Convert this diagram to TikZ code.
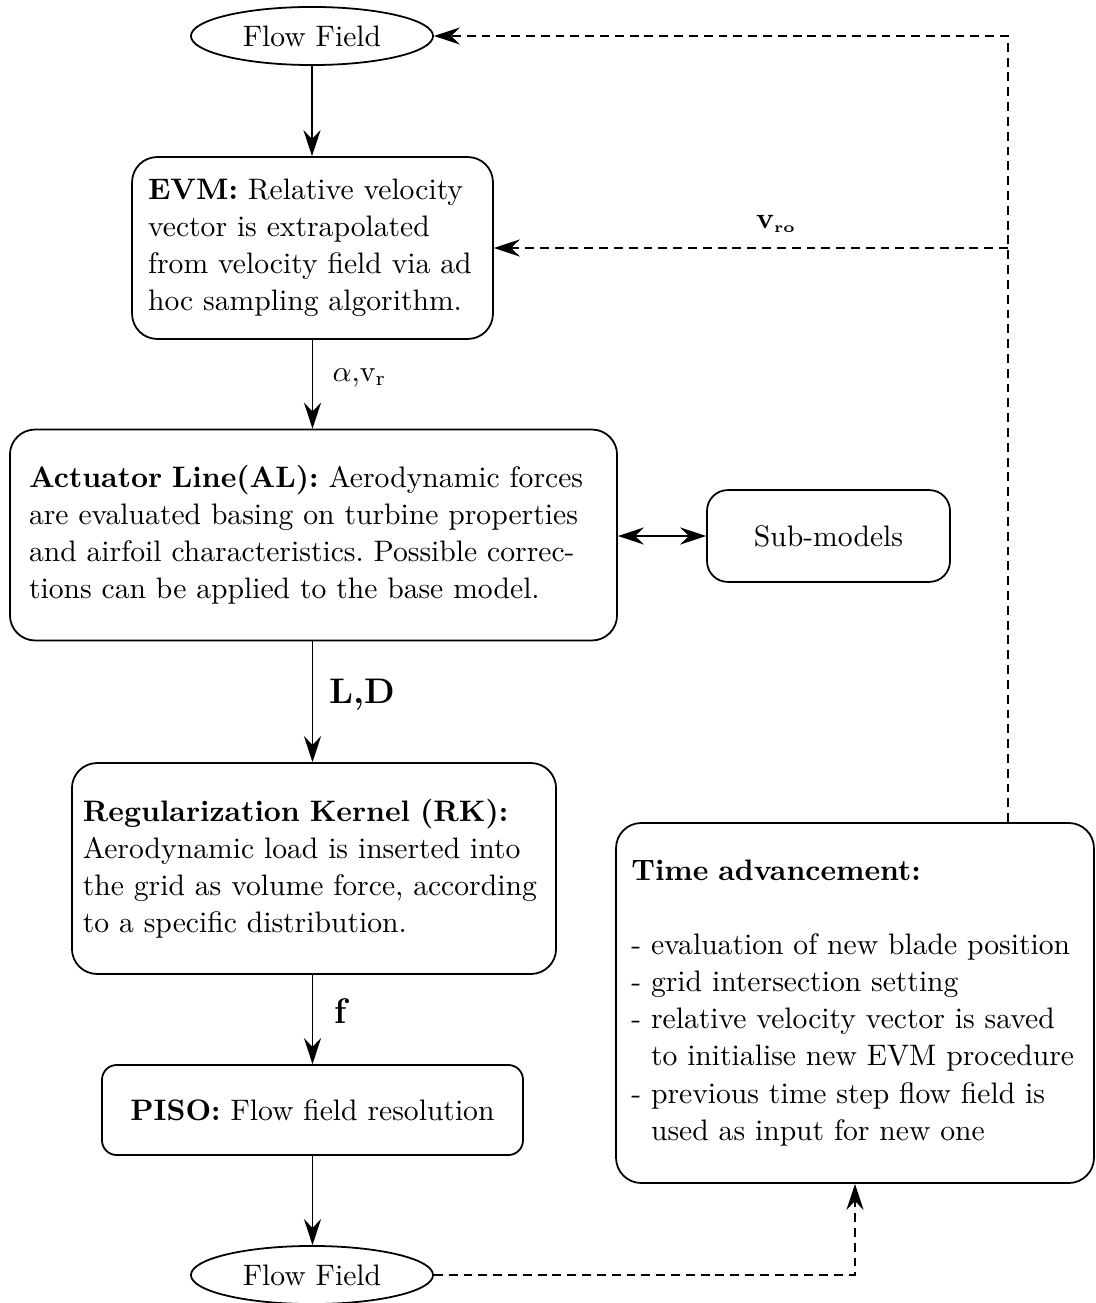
\documentclass[tikz,border=0pt]{standalone}
\usetikzlibrary{shapes.geometric,arrows.meta}
\begin{document}
\frenchspacing
\begin{tikzpicture}[x=0.3375pt,y=-0.3375pt,
  every node/.style={font=\fontsize{10}{12.5}\selectfont},
  box/.style={draw, line width=0.6pt, rounded corners=8.5pt, inner sep=0pt, align=left},
  ffnode/.style={draw, ellipse, line width=0.6pt, minimum width=81.7pt, minimum height=19.6pt, inner sep=0pt},
  tip/.tip={Stealth[length=8.8pt,width=5.8pt,inset=3pt]},
  arr/.style={line width=0.6pt, -tip},
  darr/.style={line width=0.6pt, -tip, dash pattern=on 3pt off 2pt},
  lbl/.style={anchor=west, inner sep=0pt}]
\useasboundingbox (0,0) rectangle (1095,1303);

\node[ffnode] (ff1) at (312,36) {Flow Field};
\node[box, minimum width=121.8pt, minimum height=61.4pt, text width=111pt] (evm) at (312.5,248)
  {\textbf{EVM:} Relative velocity\\vector is extrapolated\\from velocity field via ad\\hoc sampling algorithm.};
\node[box, minimum width=204.9pt, minimum height=71.2pt, text width=192pt] (al) at (313.5,535)
  {\makebox[192pt][s]{\textbf{Actuator Line(AL):} Aerodynamic forces}\\
   \makebox[192pt][s]{are evaluated basing on turbine properties}\\
   \makebox[192pt][s]{and airfoil characteristics. Possible correc-}\\
   tions can be applied to the base model.};
\node[box, rounded corners=7pt, minimum width=82pt, minimum height=31pt] (sub) at (828.5,536) {Sub-models};
\node[box, minimum width=163.4pt, minimum height=71.2pt, text width=156pt] (rk) at (314,868.5)
  {\textbf{Regularization Kernel (RK):}\\Aerodynamic load is inserted into\\the grid as volume force, according\\to a specific distribution.};
\node[box, rounded corners=5pt, minimum width=142.1pt, minimum height=30.4pt] (piso) at (312.5,1110)
  {\textbf{PISO:} Flow field resolution};
\node[ffnode] (ff2) at (312,1275) {Flow Field};
\node[box, minimum width=161.3pt, minimum height=121.5pt, text width=151pt] (time) at (855,1003)
  {\textbf{Time advancement:}\\[12.5pt]- evaluation of new blade position\\- grid intersection setting\\- relative velocity vector is saved\\\hphantom{-}\ to initialise new EVM procedure\\- previous time step flow field is\\\hphantom{-}\ used as input for new one};

\draw[arr] (ff1.south) -- (ff1.south |- evm.north);
\draw[arr] (evm.south) -- (evm.south |- al.north);
\draw[arr] (al.south -| evm.south) -- (evm.south |- rk.north);
\draw[arr] (rk.south -| piso.north) -- (piso.north);
\draw[arr] (piso.south) -- (piso.south |- ff2.north);
\draw[line width=0.6pt, tip-tip] (al.east |- sub.west) -- (sub.west);

\coordinate (tr) at (1008,36);
\coordinate (br) at (1008,248);
\draw[darr] (time.north -| tr) -- (tr) -- (ff1.east);
\draw[darr] (br) -- (evm.east);
\draw[darr] (ff2.east) -| (time.south);

\node (vro) at (776,224) {$\mathbf{v}_{\scriptscriptstyle\mathbf{ro}}$};
\node[lbl] (alv) at (332,378) {$\alpha$,v$_{\mathrm{r}}$};
\node[lbl, font=\large\bfseries] (ld) at (329,695) {L,D};
\node[lbl, font=\large\bfseries] (fl) at (334,1011) {f};
\end{tikzpicture}
\end{document}
